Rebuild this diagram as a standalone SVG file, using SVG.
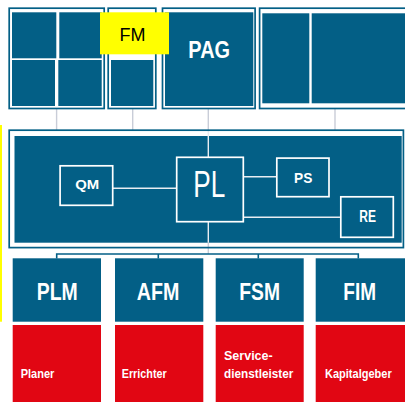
<svg xmlns="http://www.w3.org/2000/svg" width="405" height="402" viewBox="0 0 405 402">
<style>
.frame{fill:none;stroke:#035f86;stroke-width:1.7}
.fill{fill:#035f86}
.red{fill:#e10613}
.wbox{fill:none;stroke:#ffffff;stroke-width:1.7}
.wline{stroke:#e8edf2;stroke-width:1.4;fill:none}
.gline{stroke:#c9cdd8;stroke-width:1.4;fill:none}
.bline{stroke:#035f86;stroke-width:1.6;fill:none}
.big{font-family:"Liberation Sans",Arial,sans-serif;font-weight:bold;fill:#ffffff;text-anchor:middle}
.small{font-family:"Liberation Sans",Arial,sans-serif;font-weight:bold;fill:#ffffff}
</style>
<rect width="405" height="402" fill="#ffffff"/>
<g id="connectors">
<path class="gline" d="M56.6 109V130M132.7 109V130M335 109V130M208.3 109V130"/>
<path class="wline" d="M208.3 130V157.3M208.3 221.7V243"/>
<path class="gline" d="M208.3 243V254"/>
<path class="wline" d="M112.7 188.3H176.7M243.3 176.7H276M243.3 217.3H340"/>
<path class="bline" d="M56.7 254H358.3M56.7 253.2V258.5M158.3 253.2V258.5M258.3 253.2V258.5M358.3 253.2V258.5"/>
</g>
<g id="frame1">
<rect class="frame" x="9.2" y="8.2" width="95" height="100.3"/>
<rect class="fill" x="12" y="12.3" width="44.3" height="46"/>
<rect class="fill" x="59.3" y="12.3" width="42.4" height="46"/>
<rect class="fill" x="12" y="60" width="43" height="46"/>
<rect class="fill" x="58.3" y="60" width="43.4" height="46"/>
</g>
<g id="frame2">
<rect class="frame" x="108.2" y="8.2" width="47.6" height="100.3"/>
<rect class="fill" x="111" y="60" width="42.3" height="46"/>
</g>
<g id="pag">
<rect class="frame" x="162.5" y="8.2" width="92.6" height="100.3"/>
<rect class="fill" x="165" y="12.3" width="88.3" height="93.7"/>
<text class="big" x="209.2" y="58.3" font-size="24" textLength="41.7" lengthAdjust="spacingAndGlyphs">PAG</text>
</g>
<g id="frame4">
<rect class="frame" x="259.6" y="8.2" width="150" height="100.3"/>
<rect class="fill" x="262.3" y="13.3" width="47" height="90"/>
<rect class="fill" x="311.7" y="13.3" width="95" height="90"/>
</g>
<g id="fm">
<rect x="100" y="12.3" width="69" height="42" fill="#ffff00"/>
<text x="132.5" y="40.7" font-family="'Liberation Sans',Arial,sans-serif" font-size="18" fill="#000000" text-anchor="middle">FM</text>
</g>
<g id="marker">
<rect x="0" y="125" width="2" height="196.7" fill="#ffff00"/>
</g>
<g id="plframe">
<rect class="frame" x="9.2" y="130.2" width="394.2" height="117.4"/>
<rect class="fill" x="14.5" y="136" width="387.2" height="106.7"/>
</g>
<g id="connectors-inner">
<path class="wline" d="M208.3 136V157.3M208.3 221.7V242.7"/>
<path class="wline" d="M112.7 188.3H176.7M243.3 176.7H276M243.3 217.3H340"/>
</g>
<g id="qm">
<rect class="wbox" x="60.1" y="165.8" width="52.6" height="39.5"/>
<text class="big" x="87.2" y="189.3" font-size="13" textLength="24" lengthAdjust="spacingAndGlyphs">QM</text>
</g>
<g id="pl">
<rect class="wbox" x="176.7" y="157.3" width="66.6" height="64.4"/>
<text x="209.2" y="196.7" font-family="'Liberation Sans',Arial,sans-serif" font-size="36" fill="#ffffff" text-anchor="middle" textLength="32" lengthAdjust="spacingAndGlyphs">PL</text>
</g>
<g id="ps">
<rect class="wbox" x="276.8" y="158.1" width="52.2" height="38.6"/>
<text class="big" x="303.2" y="183.3" font-size="15.5" textLength="18.3" lengthAdjust="spacingAndGlyphs">PS</text>
</g>
<g id="re">
<rect class="wbox" x="340.8" y="196.8" width="52.5" height="40.5"/>
<text class="big" x="367.7" y="222.3" font-size="16" textLength="16.7" lengthAdjust="spacingAndGlyphs">RE</text>
</g>
<g id="plm">
<rect class="fill" x="12.7" y="258.3" width="88.3" height="63.4"/>
<rect class="red" x="12.7" y="325" width="88.3" height="77"/>
<text class="big" x="57.2" y="300" font-size="24.5" textLength="41" lengthAdjust="spacingAndGlyphs">PLM</text>
<text class="small" x="20.7" y="378" font-size="13" textLength="33.7" lengthAdjust="spacingAndGlyphs">Planer</text>
</g>
<g id="afm">
<rect class="fill" x="115" y="258.3" width="88.3" height="63.4"/>
<rect class="red" x="115" y="325" width="88.3" height="77"/>
<text class="big" x="158" y="300" font-size="24.5" textLength="42.6" lengthAdjust="spacingAndGlyphs">AFM</text>
<text class="small" x="121.7" y="378" font-size="13" textLength="45" lengthAdjust="spacingAndGlyphs">Errichter</text>
</g>
<g id="fsm">
<rect class="fill" x="215.7" y="258.3" width="88" height="63.4"/>
<rect class="red" x="215.7" y="325" width="88" height="77"/>
<text class="big" x="259.7" y="300" font-size="24.5" textLength="40.7" lengthAdjust="spacingAndGlyphs">FSM</text>
<text class="small" x="224" y="360" font-size="13" textLength="48.7" lengthAdjust="spacingAndGlyphs">Service-</text>
<text class="small" x="224" y="377.7" font-size="13" textLength="69.3" lengthAdjust="spacingAndGlyphs">dienstleister</text>
</g>
<g id="fim">
<rect class="fill" x="315.7" y="258.3" width="89.3" height="63.4"/>
<rect class="red" x="315.7" y="325" width="89.3" height="77"/>
<text class="big" x="359.7" y="300" font-size="24.5" textLength="32.7" lengthAdjust="spacingAndGlyphs">FIM</text>
<text class="small" x="325" y="377.7" font-size="13" textLength="66.7" lengthAdjust="spacingAndGlyphs">Kapitalgeber</text>
</g>
</svg>
